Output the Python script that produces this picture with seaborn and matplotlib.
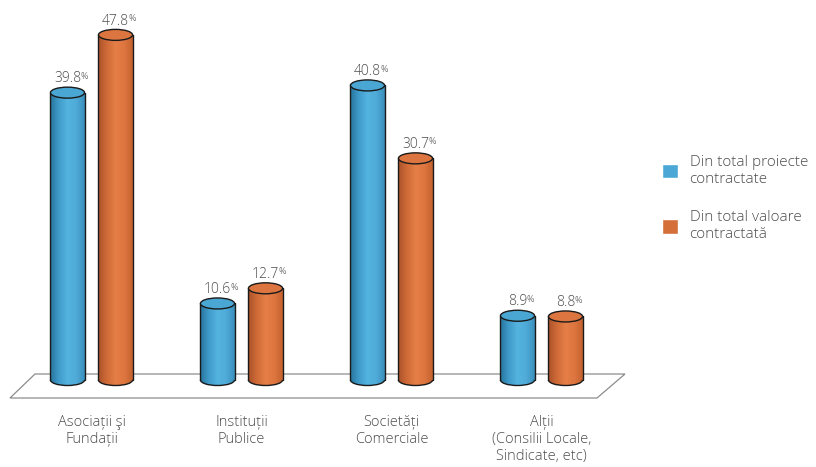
import numpy as np
import pandas as pd
import matplotlib
matplotlib.use("Agg")
import matplotlib.pyplot as plt
import seaborn as sns
from matplotlib.patches import Ellipse, Arc, Polygon
from matplotlib.colors import LinearSegmentedColormap

# data
categories = ["Asociații şi\nFundații", "Instituții\nPublice",
              "Societăți\nComerciale", "Alții\n(Consilii Locale,\nSindicate, etc)"]
series = ["Din total proiecte\ncontractate", "Din total valoare\ncontractată"]
proiecte = [39.8, 10.6, 40.8, 8.9]
valoare = [47.8, 12.7, 30.7, 8.8]

blue = "#4BA8D6"
orange = "#D46F3A"
text_col = "#4d4d4d"

df = pd.DataFrame({
    "cat": categories * 2,
    "serie": [series[0]] * 4 + [series[1]] * 4,
    "val": proiecte + valoare,
})

sns.set_theme(style="white")
plt.rcParams["font.family"] = ["Open Sans", "DejaVu Sans"]

W, H = 816, 467
fig = plt.figure(figsize=(W / 100, H / 100), dpi=100)
ax = fig.add_axes([0, (H - 405) / H, 1, 405 / H])

# pixel mapping used for layout only
x0px, unit_px = 91.5, 150
y0px, ppv = 380, 7.22

sns.barplot(data=df, x="cat", y="val", hue="serie", palette=[blue, orange],
            width=0.64, gap=0.29, ax=ax, legend=True, saturation=1)
ax.set_xlim(-x0px / unit_px, (W - x0px) / unit_px)
ax.set_ylim(-(405 - y0px) / ppv, y0px / ppv)


def px2data(px, py):
    return ((px - x0px) / unit_px, (y0px - py) / ppv)


# floor
floor = Polygon([px2data(35, 374), px2data(625, 374), px2data(597, 398), px2data(10, 398)],
                closed=True, facecolor="white", edgecolor="#8c8c8c", lw=0.9, zorder=0.5)
ax.add_patch(floor)

cmaps = {
    0: LinearSegmentedColormap.from_list("b", ["#25729a", "#3f9bc9", "#55b3e0", "#4fabd8", "#3a8fbb"]),
    1: LinearSegmentedColormap.from_list("o", ["#a9512a", "#cf6a37", "#e57f47", "#de7640", "#c4622f"]),
}
tops = {0: "#4aa6d3", 1: "#dc7540"}
eh = 11 / ppv
grad = np.linspace(0, 1, 256).reshape(1, -1)
renderer = fig.canvas.get_renderer()

for hi, cont in enumerate(ax.containers):
    for bar in cont:
        x = bar.get_x()
        w = bar.get_width()
        h = bar.get_height()
        bar.set_visible(False)
        body = plt.Rectangle((x, 0), w, h, transform=ax.transData)
        bot = Ellipse((x + w / 2, 0), w, eh, transform=ax.transData)
        for clip in (body, bot):
            im = ax.imshow(grad, cmap=cmaps[hi], aspect="auto",
                           extent=(x, x + w, -eh, h), zorder=2, interpolation="bilinear")
            im.set_clip_path(clip)
        ax.plot([x, x], [0, h], color="#1a1a1a", lw=1.0, zorder=3)
        ax.plot([x + w, x + w], [0, h], color="#1a1a1a", lw=1.0, zorder=3)
        ax.add_patch(Arc((x + w / 2, 0), w, eh, theta1=180, theta2=360,
                         color="#1a1a1a", lw=1.0, zorder=3))
        ax.add_patch(Ellipse((x + w / 2, h), w, eh, facecolor=tops[hi],
                             edgecolor="#1a1a1a", lw=1.0, zorder=4))
        num = ax.annotate(f"{h:.1f}", (x + w / 2, h + eh / 2), xytext=(0, 3.5),
                          textcoords="offset points", ha="center", va="baseline",
                          fontsize=10, color=text_col, fontweight="light")
        bb = num.get_window_extent(renderer)
        ax.annotate("%", (bb.x1 - 0.5, bb.y1 - 0.5), xycoords="figure pixels",
                    ha="left", va="top", fontsize=6.5, color="#707070")

ax.set_xlabel("")
ax.set_ylabel("")
ax.set_yticks([])
ax.tick_params(axis="x", length=0, pad=7, labelsize=10.5, labelcolor=text_col)
for t in ax.get_xticklabels():
    t.set_fontweight("light")
for s in ax.spines.values():
    s.set_visible(False)

leg = ax.legend(loc="upper left", bbox_to_anchor=(662 / W, 1 - 155 / H),
                bbox_transform=fig.transFigure, frameon=False, fontsize=11,
                handlelength=1.05, handleheight=1.05, handletextpad=0.75,
                labelspacing=1.5, borderaxespad=0, borderpad=0)
for t in leg.get_texts():
    t.set_color(text_col)
    t.set_fontweight("light")

fig.savefig("out.png", dpi=100)
